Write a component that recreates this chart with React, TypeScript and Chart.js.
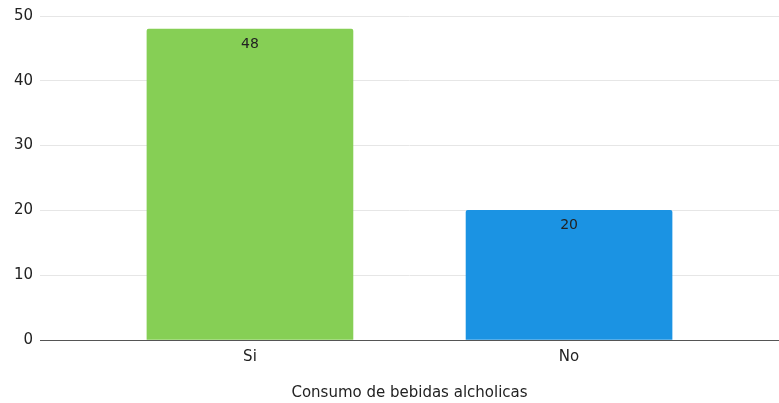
import React, { useEffect, useRef } from "react";
import { Chart, registerables } from "chart.js";

Chart.register(...registerables);

const categories = ["Si", "No"];
const values = [48, 20];
const barColors = ["#86cf55", "#1b93e3"];
const yTicks = [0, 10, 20, 30, 40, 50];
const xTitle = "Consumo de bebidas alcholicas";

const FONT = "'DejaVu Sans', Arial, sans-serif";

const valueLabels = {
  id: "valueLabels",
  afterDatasetsDraw(chart: any) {
    const ctx = chart.ctx;
    const meta = chart.getDatasetMeta(0);
    ctx.save();
    ctx.font = "14px " + FONT;
    ctx.fillStyle = "#222";
    ctx.textAlign = "center";
    ctx.textBaseline = "middle";
    meta.data.forEach((el: any, i: number) => {
      ctx.fillText(String(values[i]), el.x, el.y + 15);
    });
    ctx.restore();
  },
};

export default function App() {
  const ref = useRef<HTMLCanvasElement>(null);
  useEffect(() => {
    if (!ref.current) return;
    const chart = new Chart(ref.current, {
      type: "bar",
      data: {
        datasets: [
          {
            data: values.map((v, i) => ({ x: i, y: v })),
            backgroundColor: barColors,
            borderRadius: 2,
            borderSkipped: "bottom",
            barThickness: 206,
          },
        ],
      },
      options: {
        animation: false,
        responsive: false,
        maintainAspectRatio: false,
        layout: { padding: { top: 0, right: 0, left: 0, bottom: 1 } },
        plugins: { legend: { display: false }, tooltip: { enabled: false } },
        scales: {
          x: {
            type: "linear",
            offset: false,
            min: -0.658,
            max: 1.658,
            afterBuildTicks: (scale: any) => {
              scale.ticks = categories.map((_, i) => ({ value: i }));
            },
            afterFit: (scale: any) => {
              scale.height = 62;
            },
            ticks: {
              callback: (v: any) => categories[v as number] ?? "",
              color: "#222",
              font: { size: 15, family: FONT },
              padding: 8,
              autoSkip: false,
              maxRotation: 0,
            },
            grid: { display: false, drawTicks: false, offset: false },
            border: { display: true, color: "#555", width: 1 },
            title: {
              display: true,
              text: xTitle,
              color: "#222",
              font: { size: 15, family: FONT },
              padding: { top: 8, bottom: 0 },
            },
          },
          y: {
            min: 0,
            max: 50,
            afterBuildTicks: (scale: any) => {
              scale.ticks = yTicks.map((v) => ({ value: v }));
            },
            afterFit: (scale: any) => {
              scale.width = 40;
            },
            ticks: {
              color: "#222",
              font: { size: 15, family: FONT },
              padding: 7,
            },
            grid: { color: "#e6e6e6", drawTicks: false },
            border: { display: false },
          },
        },
      },
      plugins: [valueLabels],
    } as any);
    return () => chart.destroy();
  }, []);
  return (
    <div style={{ position: "fixed", left: 0, top: 0, width: 779, height: 403, background: "#fff" }}>
      <canvas ref={ref} width={779} height={403} style={{ width: 779, height: 403 }} />
    </div>
  );
}
